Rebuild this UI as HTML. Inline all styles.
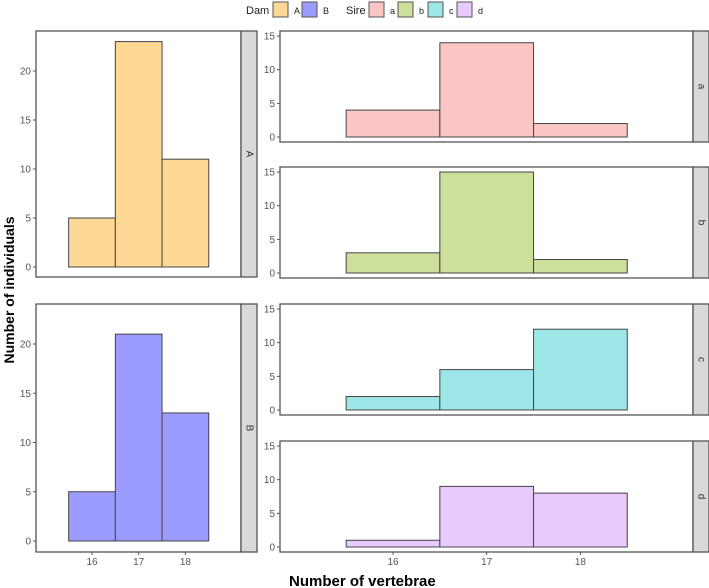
<!DOCTYPE html>
<html><head><meta charset="utf-8"><style>
body{margin:0;background:#fff;}
svg{display:block;font-family:"Liberation Sans",sans-serif;}
</style></head><body>
<svg id="chart" width="709" height="588" viewBox="0 0 709 588"></svg>
<script>
const bins = [16, 17, 18];
const damLabels = ["A", "B"];
const damCounts = [[5, 23, 11], [5, 21, 13]];
const sireLabels = ["a", "b", "c", "d"];
const sireCounts = [[4, 14, 2], [3, 15, 2], [2, 6, 12], [1, 9, 8]];
const damTicks = [0, 5, 10, 15, 20];
const sireTicks = [0, 5, 10, 15];
const xTicks = [16, 17, 18];
const damColors = ["#fdd995", "#9c9cff"];
const sireColors = ["#f9c6c4", "#cde09b", "#9de6e8", "#e8caff"];

const NS = "http://www.w3.org/2000/svg";
const svg = document.getElementById("chart");
function mk(tag, attrs, parent) {
  const e = document.createElementNS(NS, tag);
  for (const k in attrs) e.setAttribute(k, attrs[k]);
  (parent || svg).appendChild(e);
  return e;
}

function panel(px, top, bottom, stripW, y0, yTop, yTopVal, x16, pxPerUnit, counts, color, ticks, label, name, showX) {
  const g = mk("g", {});
  
  
  const plotRight = px[1];
  const yScale = v => y0 - (y0 - yTop) * v / yTopVal;
  const xScale = v => x16 + (v - 16) * pxPerUnit;
  counts.forEach((c, i) => {
    const x1 = xScale(bins[i] - 0.5), x2 = xScale(bins[i] + 0.5);
    const r = mk("rect", {x: x1, y: yScale(c), width: x2 - x1, height: yScale(0) - yScale(c), fill: color, stroke: "#444", "stroke-width": 1}, g);
    
    
  });
  const frame = mk("rect", {x: px[0], y: top, width: plotRight - px[0], height: bottom - top, fill: "none", stroke: "#555", "stroke-width": 1.3}, g);
  
  
  ticks.forEach(t => {
    const y = yScale(t);
    mk("line", {x1: px[0] - 3, x2: px[0], y1: y, y2: y, stroke: "#555"}, g);
    const tx = mk("text", {x: px[0] - 5, y: y + 3.5, "font-size": 10, fill: "#555", "text-anchor": "end"}, g);
    tx.textContent = t;
    
    
  });
  const s = mk("rect", {x: plotRight, y: top, width: stripW, height: bottom - top, fill: "#d9d9d9", stroke: "#555", "stroke-width": 1.3}, g);
  
  
  const cx = plotRight + stripW / 2, cy = (top + bottom) / 2;
  const st = mk("text", {x: cx, y: cy, "font-size": 10, fill: "#333", "text-anchor": "middle", "dominant-baseline": "central", transform: "rotate(90 " + cx + " " + cy + ")"}, g);
  st.textContent = label;
  
  
  if (showX) {
    xTicks.forEach(t => {
      const x = xScale(t);
      mk("line", {x1: x, x2: x, y1: bottom, y2: bottom + 3, stroke: "#555"}, g);
      const tx = mk("text", {x: x, y: bottom + 13, "font-size": 10, fill: "#555", "text-anchor": "middle"}, g);
      tx.textContent = t;
      
      
    });
  }
}

panel([36, 241], 31, 277, 16, 267, 71, 20, 92, 46.7, damCounts[0], damColors[0], damTicks, damLabels[0], "panel-dam-A", false);
panel([36, 241], 304, 552, 16, 541, 344, 20, 92, 46.7, damCounts[1], damColors[1], damTicks, damLabels[1], "panel-dam-B", true);
const sireTops = [31, 167, 304, 441];
sireLabels.forEach((l, i) => {
  const top = sireTops[i], bottom = top + 111;
  panel([280, 693], top, bottom, 16, bottom - 5, top + 5, 15, 393, 93.7, sireCounts[i], sireColors[i], sireTicks, l, "panel-sire-" + l, i === 3);
});

const yt = mk("text", {x: 14, y: 290, "font-size": 14, "font-weight": "bold", "text-anchor": "middle", transform: "rotate(-90 14 290)", fill: "#000"});
yt.textContent = "Number of individuals";


const xt = mk("text", {x: 289, y: 586, "font-size": 15, "font-weight": "bold", fill: "#000"});
xt.textContent = "Number of vertebrae";



const lg = mk("g", {});


function ltext(x, t, size, name) {
  const e = mk("text", {x: x, y: 14, "font-size": size, fill: "#222"}, lg);
  e.textContent = t;
  
  
}
function lbox(x, color, name) {
  const e = mk("rect", {x: x, y: 2, width: 15, height: 15, fill: color, stroke: "#555"}, lg);
  
  
}
ltext(246, "Dam", 11, "legend-title-dam");
const damX = [273, 302];
damLabels.forEach((l, i) => { lbox(damX[i], damColors[i], 'legend-key-' + l); ltext(damX[i] + 21, l, 9, 'legend-label-' + l); });
ltext(346, "Sire", 11, "legend-title-sire");
const sireX = [369, 398, 428, 457];
sireLabels.forEach((l, i) => { lbox(sireX[i], sireColors[i], 'legend-key-' + l); ltext(sireX[i] + 21, l, 9, 'legend-label-' + l); });
</script>
</body></html>
